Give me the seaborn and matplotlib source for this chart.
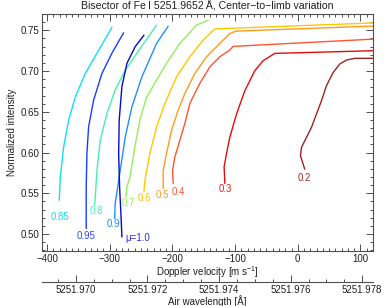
import matplotlib
matplotlib.use('Agg')
import matplotlib.pyplot as plt
from matplotlib.ticker import MultipleLocator, FixedLocator
import seaborn as sns
import pandas as pd

# bisector data (velocity in m/s, intensity normalized)
mu_labels = ['0.2', '0.3', '0.4', '0.5', '0.6', '0.7', '0.8', '0.85', '0.9', '0.95', '1.0']

v_02 = [11.1, 4.3, 5.9, 13.9, 21.8, 29.8, 37.8, 45.7, 56.2, 66.9, 77.6, 90.8, 125]
i_02 = [0.5796, 0.596, 0.6063, 0.6186, 0.6308, 0.6472, 0.6635, 0.6819, 0.698, 0.7086, 0.7135, 0.7156, 0.7157]

v_03 = [-116.3, -117.5, -113.6, -108.4, -97.7, -84.5, -68.5, -55.3, -36.7, 125]
i_03 = [0.562, 0.5824, 0.599, 0.6186, 0.6472, 0.6758, 0.7004, 0.7127, 0.7217, 0.7251]

v_04 = [-198.7, -199.7, -196.0, -188.1, -180.1, -172.1, -156.2, -140.2, -124.3, -108.4, -103.1, 125]
i_04 = [0.562, 0.578, 0.5947, 0.615, 0.6357, 0.6603, 0.685, 0.7053, 0.7176, 0.7258, 0.7303, 0.7394]

v_05 = [-214.7, -214.7, -209.3, -201.3, -190.8, -180.1, -164.2, -145.5, -124.3, -108.4, -98.8, 125]
i_05 = [0.556, 0.578, 0.599, 0.6275, 0.652, 0.6726, 0.697, 0.7176, 0.734, 0.746, 0.749, 0.7554]

v_06 = [-245.4, -243.8, -235.9, -225.2, -212.0, -193.3, -172.1, -150.9, -132.3, 125]
i_06 = [0.5517, 0.566, 0.599, 0.6316, 0.6603, 0.693, 0.7176, 0.738, 0.7518, 0.7592]

v_07 = [-274.1, -272.5, -267.7, -259.8, -251.8, -241.1, -225.2, -209.3, -188.1, -161.4, -143.0]
i_07 = [0.5456, 0.558, 0.570, 0.607, 0.640, 0.668, 0.689, 0.7095, 0.734, 0.7565, 0.7624]

v_08 = [-324.0, -323.0, -320.3, -315.1, -304.4, -291.2, -275.2, -256.6, -225.2]
i_08 = [0.5354, 0.5456, 0.578, 0.615, 0.648, 0.677, 0.701, 0.722, 0.7565]

v_085 = [-380.4, -378.8, -373.4, -365.4, -354.9, -339.0, -320.3, -296.4]
i_085 = [0.5415, 0.570, 0.607, 0.640, 0.668, 0.697, 0.722, 0.7537]

v_09 = [-292.1, -291.2, -283.2, -275.2, -264.6, -248.6, -225.2, -206.7]
i_09 = [0.519, 0.5375, 0.578, 0.619, 0.656, 0.693, 0.734, 0.755]

v_095 = [-337.4, -337.4, -336.3, -333.6, -325.6, -312.4, -296.4, -277.8]
i_095 = [0.5068, 0.558, 0.599, 0.6316, 0.6644, 0.697, 0.722, 0.747]

v_10 = [-280.5, -282.1, -284.2, -285.7, -284.8, -280.5, -272.5, -259.3, -245.4]
i_10 = [0.4964, 0.525, 0.558, 0.599, 0.640, 0.681, 0.7095, 0.730, 0.744]

curve_v = [v_02, v_03, v_04, v_05, v_06, v_07, v_08, v_085, v_09, v_095, v_10]
curve_i = [i_02, i_03, i_04, i_05, i_06, i_07, i_08, i_085, i_09, i_095, i_10]

colors = ['#9e2424', '#e60a0a', '#ff5530', '#ff9a1e', '#ffc800', '#96ee5a',
          '#46f0b0', '#10e0f5', '#2090ff', '#1c3cff', '#0a0ac8']

# label texts and where they sit
label_text = ['0.2', '0.3', '0.4', '0.5', '0.6', '0.7', '0.8', '0.85', '0.9', '0.95', '\u03bc=1.0']
label_v = [11, -115, -191, -216, -245, -271, -322, -380, -294, -338, -256]
label_i = [0.5686, 0.5556, 0.5517, 0.5477, 0.5436, 0.5383, 0.528, 0.521, 0.5117, 0.4972, 0.4957]
label_colors = ['#a32a2a', '#e62020', '#ff5530', '#ff9a1e', '#ffc400', '#96ee5a',
                '#46f0b0', '#10e0f5', '#2090ff', '#2a4aff', '#3030e0']

# wavelength axis
lam_ticks = [5251.970, 5251.972, 5251.974, 5251.976, 5251.978]
lam0 = 5251.9762
c = 2.99792458e8

rows = []
for mu, vv, ii in zip(mu_labels, curve_v, curve_i):
    for k, (v, i) in enumerate(zip(vv, ii)):
        rows.append({'mu': mu, 'order': k, 'v': v, 'I': i})
df = pd.DataFrame(rows)

sns.set_style('ticks')
plt.rcParams['font.family'] = ['Liberation Sans', 'DejaVu Sans']
plt.rcParams['mathtext.fontset'] = 'custom'
plt.rcParams['mathtext.rm'] = 'Liberation Sans'
plt.rcParams['mathtext.it'] = 'Liberation Sans'
fs = 7.0
edge = '#505050'
txt = '#202020'

fig = plt.figure(figsize=(3.89, 3.06), dpi=100)
ax = fig.add_axes([0.1087, 0.1807, 0.8502, 0.7726])

sns.lineplot(data=df, x='v', y='I', hue='mu', hue_order=mu_labels,
             palette=dict(zip(mu_labels, colors)), sort=False,
             estimator=None, lw=1.0, legend=False, ax=ax)

for t, x, y, col in zip(label_text, label_v, label_i, label_colors):
    ax.text(x, y, t, color=col, fontsize=fs, ha='center', va='center')

ax.set_xlim(-407.5, 120)
ax.set_ylim(0.4795, 0.7697)
ax.xaxis.set_major_locator(MultipleLocator(100))
ax.xaxis.set_minor_locator(MultipleLocator(10))
ax.yaxis.set_major_locator(MultipleLocator(0.05))
ax.yaxis.set_minor_locator(MultipleLocator(0.01))
ax.xaxis.set_major_formatter(plt.FuncFormatter(lambda x, p: f'{x:.0f}'.replace('-', '\u2212')))
ax.yaxis.set_major_formatter(plt.FuncFormatter(lambda y, p: f'{y:.2f}'))
ax.tick_params(which='both', direction='in', top=True, right=True,
               color=edge, labelcolor=txt, labelsize=fs, width=0.7)
ax.tick_params(which='major', length=5)
ax.tick_params(which='minor', length=2.5)
ax.tick_params(axis='x', pad=2.5)
ax.tick_params(axis='y', pad=2)
for s in ax.spines.values():
    s.set_color(edge)
    s.set_linewidth(0.8)

ax.set_xlabel('Doppler velocity [m s$^{\u22121}$]', fontsize=fs, color=txt, labelpad=0)
ax.set_ylabel('Normalized intensity', fontsize=fs, color=txt, labelpad=2.5)
ax.set_title('Bisector of Fe\u2009I 5251.9652\u2009\u00c5, Center\u2212to\u2212limb variation',
             fontsize=7.6, color=txt, pad=3.5)

def v2l(v):
    return lam0 * (1 + v / c)

def l2v(l):
    return (l / lam0 - 1) * c

sec = ax.secondary_xaxis(-0.131, functions=(v2l, l2v))
sec.xaxis.set_major_locator(FixedLocator(lam_ticks))
sec.xaxis.set_minor_locator(FixedLocator([5251.9695 + 0.0005 * k for k in range(19)]))
sec.xaxis.set_major_formatter(plt.FuncFormatter(lambda x, p: f'{x:.3f}'))
sec.tick_params(which='both', direction='in', color=edge, labelcolor=txt,
                labelsize=fs, width=0.7, pad=2.5)
sec.tick_params(which='major', length=5)
sec.tick_params(which='minor', length=2.5)
sec.spines['bottom'].set_color(edge)
sec.spines['bottom'].set_linewidth(0.8)
sec.set_xlabel('Air wavelength [\u00c5]', fontsize=fs, color=txt, labelpad=0)

plt.savefig('out.png', dpi=100)
